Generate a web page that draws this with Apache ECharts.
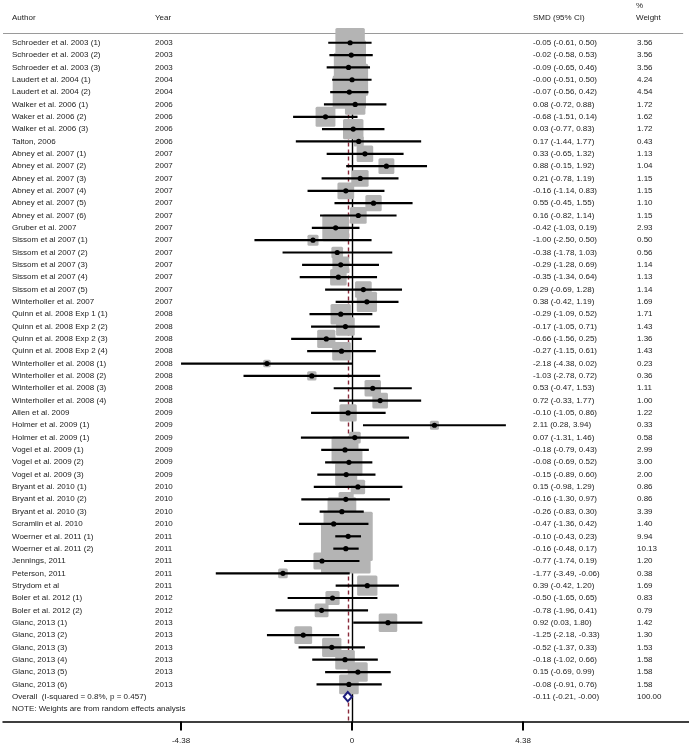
<!DOCTYPE html>
<html>
<head>
<meta charset="utf-8">
<script src="https://cdn.jsdelivr.net/npm/echarts@6/dist/echarts.min.js"></script>
<style>
  html, body { margin: 0; padding: 0; background: #fff; }
  #chart { width: 689px; height: 747px; }
</style>
</head>
<body>
<div id="chart"></div>
<script>
// study rows, top to bottom
const authors = [
  'Schroeder et al. 2003 (1)', 'Schroeder et al. 2003 (2)', 'Schroeder et al. 2003 (3)',
  'Laudert et al. 2004 (1)', 'Laudert et al. 2004 (2)',
  'Walker et al. 2006 (1)', 'Waker et al. 2006 (2)', 'Walker et al. 2006 (3)', 'Talton, 2006',
  'Abney et al. 2007 (1)', 'Abney et al. 2007 (2)', 'Abney et al. 2007 (3)',
  'Abney et al. 2007 (4)', 'Abney et al. 2007 (5)', 'Abney et al. 2007 (6)',
  'Gruber et al. 2007',
  'Sissom et al 2007 (1)', 'Sissom et al 2007 (2)', 'Sissom et al 2007 (3)',
  'Sissom et al 2007 (4)', 'Sissom et al 2007 (5)',
  'Winterholler et al. 2007',
  'Quinn et al. 2008 Exp 1 (1)', 'Quinn et al. 2008 Exp 2 (2)', 'Quinn et al. 2008 Exp 2 (3)', 'Quinn et al. 2008 Exp 2 (4)',
  'Winterholler et al. 2008 (1)', 'Winterholler et al. 2008 (2)', 'Winterholler et al. 2008 (3)', 'Winterholler et al. 2008 (4)',
  'Allen et al. 2009', 'Holmer et al. 2009 (1)', 'Holmer et al. 2009 (1)',
  'Vogel et al. 2009 (1)', 'Vogel et al. 2009 (2)', 'Vogel et al. 2009 (3)',
  'Bryant et al. 2010 (1)', 'Bryant et al. 2010 (2)', 'Bryant et al. 2010 (3)',
  'Scramlin et al. 2010', 'Woerner et al. 2011 (1)', 'Woerner et al. 2011 (2)',
  'Jennings, 2011', 'Peterson, 2011', 'Strydom et al',
  'Boler et al. 2012 (1)', 'Boler et al. 2012 (2)',
  'Glanc, 2013 (1)', 'Glanc, 2013 (2)', 'Glanc, 2013 (3)', 'Glanc, 2013 (4)', 'Glanc, 2013 (5)', 'Glanc, 2013 (6)'
]
const years = [
  2003, 2003, 2003, 2004, 2004, 2006, 2006, 2006, 2006,
  2007, 2007, 2007, 2007, 2007, 2007, 2007, 2007, 2007, 2007, 2007, 2007, 2007,
  2008, 2008, 2008, 2008, 2008, 2008, 2008, 2008,
  2009, 2009, 2009, 2009, 2009, 2009,
  2010, 2010, 2010, 2010,
  2011, 2011, 2011, 2011, 2011,
  2012, 2012,
  2013, 2013, 2013, 2013, 2013, 2013
]
const smd = [
  -0.05, -0.02, -0.09, -0.00, -0.07, 0.08, -0.68, 0.03, 0.17,
  0.33, 0.88, 0.21, -0.16, 0.55, 0.16, -0.42,
  -1.00, -0.38, -0.29, -0.35, 0.29, 0.38,
  -0.29, -0.17, -0.66, -0.27, -2.18, -1.03, 0.53, 0.72,
  -0.10, 2.11, 0.07, -0.18, -0.08, -0.15,
  0.15, -0.16, -0.26, -0.47, -0.10, -0.16,
  -0.77, -1.77, 0.39, -0.50, -0.78,
  0.92, -1.25, -0.52, -0.18, 0.15, -0.08
]
const lower = [
  -0.61, -0.58, -0.65, -0.51, -0.56, -0.72, -1.51, -0.77, -1.44,
  -0.65, -0.15, -0.78, -1.14, -0.45, -0.82, -1.03,
  -2.50, -1.78, -1.28, -1.34, -0.69, -0.42,
  -1.09, -1.05, -1.56, -1.15, -4.38, -2.78, -0.47, -0.33,
  -1.05, 0.28, -1.31, -0.79, -0.69, -0.89,
  -0.98, -1.30, -0.83, -1.36, -0.43, -0.48,
  -1.74, -3.49, -0.42, -1.65, -1.96,
  0.03, -2.18, -1.37, -1.02, -0.69, -0.91
]
const upper = [
  0.50, 0.53, 0.46, 0.50, 0.42, 0.88, 0.14, 0.83, 1.77,
  1.32, 1.92, 1.19, 0.83, 1.55, 1.14, 0.19,
  0.50, 1.03, 0.69, 0.64, 1.28, 1.19,
  0.52, 0.71, 0.25, 0.61, 0.02, 0.72, 1.53, 1.77,
  0.86, 3.94, 1.46, 0.43, 0.52, 0.60,
  1.29, 0.97, 0.30, 0.42, 0.23, 0.17,
  0.19, -0.06, 1.20, 0.65, 0.41,
  1.80, -0.33, 0.33, 0.66, 0.99, 0.76
]
const weights = [
  3.56, 3.56, 3.56, 4.24, 4.54, 1.72, 1.62, 1.72, 0.43,
  1.13, 1.04, 1.15, 1.15, 1.10, 1.15, 2.93,
  0.50, 0.56, 1.14, 1.13, 1.14, 1.69,
  1.71, 1.43, 1.36, 1.43, 0.23, 0.36, 1.11, 1.00,
  1.22, 0.33, 0.58, 2.99, 3.00, 2.00,
  0.86, 0.86, 3.39, 1.40, 9.94, 10.13,
  1.20, 0.38, 1.69, 0.83, 0.79,
  1.42, 1.30, 1.53, 1.58, 1.58, 1.58
]
// pooled estimate: [smd, lower, upper]
const overallEffect = [-0.11, -0.21, -0.00]
const overallWeight = 100.00
const overallLabel = 'Overall  (I-squared = 0.8%, p = 0.457)'
const noteText = 'NOTE: Weights are from random effects analysis'
const axisTicks = [-4.38, 0, 4.38]

const FONT_FAMILY = '"Liberation Sans", Arial, sans-serif'
const FONT = '8px ' + FONT_FAMILY
const TEXT = '#222'
const BOX_K = 15.6          // box side = k * sqrt(weight)
const colX = [12, 155, 533, 637]

const fmt = v => ((v < 0 || Object.is(v, -0)) ? '-' : '') + Math.abs(v).toFixed(2)
const ciText = (e, l, u) => `${fmt(e)} (${fmt(l)}, ${fmt(u)})`

const nStudies = authors.length
const overallRow = nStudies
const noteRow = nStudies + 1

const tableRows = authors.map((a, i) => [i, a, String(years[i]), ciText(smd[i], lower[i], upper[i]), weights[i].toFixed(2)])
tableRows.push([overallRow, overallLabel, '', ciText(...overallEffect), overallWeight.toFixed(2)])
tableRows.push([noteRow, noteText, '', '', ''])

const chart = echarts.init(document.getElementById('chart'))

const headerText = (text, x, y) => ({
  type: 'text', x, y, silent: true,
  style: { text, font: FONT, fill: TEXT, verticalAlign: 'middle' }
})

const option = {
  animation: false,
  backgroundColor: '#fff',
  grid: { left: 3, right: 0, top: 30.4, bottom: 25.6 },
  xAxis: {
    type: 'value',
    min: -8.94,
    max: 8.63,
    splitLine: { show: false },
    axisLine: { onZero: false, lineStyle: { color: '#000', width: 1.5 } },
    axisTick: { customValues: axisTicks, length: 9, lineStyle: { color: '#000', width: 2 } },
    axisLabel: {
      customValues: axisTicks,
      margin: 15,
      color: TEXT,
      fontSize: 8,
      fontFamily: FONT_FAMILY,
      formatter: v => String(v)
    }
  },
  yAxis: { type: 'value', inverse: true, min: -1, max: 55, show: false },
  graphic: [
    headerText('Author', colX[0], 18),
    headerText('Year', colX[1], 18),
    headerText('SMD (95% CI)', colX[2], 18),
    headerText('%', colX[3] - 1, 6),
    headerText('Weight', colX[3] - 1, 18)
  ],
  series: [
    {
      // reference lines, kept under the boxes
      type: 'line',
      data: [],
      z: 1,
      markLine: {
        z: 1,
        silent: true,
        symbol: 'none',
        label: { show: false },
        data: [
          { xAxis: 0, lineStyle: { color: '#000', width: 1.4, type: 'solid' } },
          { xAxis: overallEffect[0], lineStyle: { color: '#8a2a3a', width: 1.4, type: [4, 3] } },
          [
            { coord: [-8.94, -0.76], lineStyle: { color: '#9a9a9a', width: 1, type: 'solid' } },
            { coord: [8.48, -0.76] }
          ]
        ]
      }
    },
    {
      // weight boxes
      type: 'custom',
      z: 2,
      silent: true,
      data: smd.map((v, i) => [v, i, weights[i]]),
      renderItem: (params, api) => {
        const c = api.coord([api.value(0), api.value(1)])
        const s = BOX_K * Math.sqrt(api.value(2))
        return {
          type: 'rect',
          shape: { x: c[0] - s / 2, y: c[1] - s / 2, width: s, height: s, r: 1.5 },
          style: { fill: '#b4b4b4' }
        }
      }
    },
    {
      // confidence intervals and point estimates
      type: 'custom',
      z: 3,
      silent: true,
      data: smd.map((v, i) => [lower[i], upper[i], v, i]),
      renderItem: (params, api) => {
        const row = api.value(3)
        const a = api.coord([api.value(0), row])
        const b = api.coord([api.value(1), row])
        const p = api.coord([api.value(2), row])
        return {
          type: 'group',
          children: [
            { type: 'line', shape: { x1: a[0], y1: a[1], x2: b[0], y2: b[1] }, style: { stroke: '#000', lineWidth: 2.2 } },
            { type: 'circle', shape: { cx: p[0], cy: p[1], r: 2.6 }, style: { fill: '#000' } }
          ]
        }
      }
    },
    {
      // pooled diamond
      type: 'custom',
      z: 4,
      silent: true,
      data: [[overallEffect[0], overallEffect[1], overallEffect[2], overallRow]],
      renderItem: (params, api) => {
        const row = api.value(3)
        const c = api.coord([api.value(0), row])
        const l = api.coord([api.value(1), row])
        const u = api.coord([api.value(2), row])
        const h = 4.6
        return {
          type: 'polygon',
          shape: { points: [[l[0], c[1]], [c[0], c[1] - h], [u[0], c[1]], [c[0], c[1] + h]] },
          style: { fill: '#fff', stroke: '#1c1c7c', lineWidth: 2 }
        }
      }
    },
    {
      // table text
      type: 'custom',
      z: 5,
      silent: true,
      data: tableRows.map(r => [0, r[0]]),
      renderItem: (params, api) => {
        const row = tableRows[params.dataIndex]
        const y = api.coord([0, row[0]])[1]
        return {
          type: 'group',
          children: row.slice(1).map((t, k) => ({
            type: 'text',
            x: colX[k],
            y,
            style: { text: t, font: FONT, fill: TEXT, verticalAlign: 'middle' }
          }))
        }
      }
    }
  ]
}

chart.setOption(option)
</script>
</body>
</html>
